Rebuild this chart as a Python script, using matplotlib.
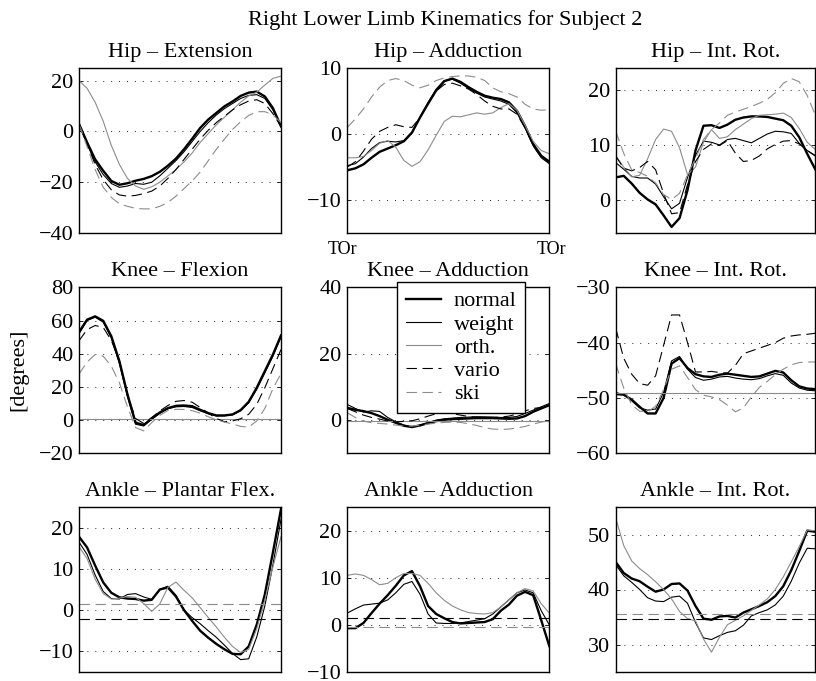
import matplotlib
matplotlib.use('Agg')
import matplotlib.pyplot as plt

plt.rcParams['font.family'] = ['Liberation Serif', 'DejaVu Serif']
plt.rcParams['font.size'] = 16
plt.rcParams['lines.scale_dashes'] = False

# gait cycle [%]
pct = list(range(0, 101, 4))

# Hip - Extension
hip_ext_normal = [3, -4.3, -11, -15.5, -19.5, -21, -20.4, -19.4, -18.7, -17.6, -15.9, -13.5, -10.7,
                  -7, -2.9, 1.4, 4.7, 7.3, 9.9, 11.8, 14, 15.3, 15.7, 13.8, 9.2, 2]
hip_ext_weight = [3, -5, -12, -17, -20.5, -22, -21.5, -20.5, -20.8, -20, -17.5, -14.5, -11.5,
                  -8, -4, 0, 3.5, 6.5, 9, 11, 13, 14.2, 14.5, 13, 8.5, 2]
hip_ext_orth = [20, 17, 11.5, 4, -5.5, -13, -18.5, -21.5, -22.8, -21.8, -20, -17.5, -15,
                -12, -8.5, -4.3, -0.8, 2.6, 5.6, 8.5, 11.5, 14, 15.5, 18.3, 20.9, 21.8]
hip_ext_vario = [3, -5, -13, -19, -23, -25, -25.5, -25.2, -24.5, -23.5, -21.5, -18.5, -15,
                 -11, -7, -3, 0.5, 3.5, 6, 8.5, 10.5, 12, 12.5, 11, 7, 2]
hip_ext_ski = [3, -6, -15, -22, -26, -28.5, -29.5, -30.3, -30.5, -30.5, -29.5, -28, -25.5,
               -22.5, -19.5, -16, -11.5, -7, -3, 0.8, 3.8, 6.3, 7.8, 7.8, 6.5, 3.5]

# Hip - Adduction
hip_add_normal = [-5.5, -5.2, -4.6, -3.6, -2.7, -2.2, -1.7, -1.1, 0.2, 2.5, 4.6, 6.6, 8,
                  8.4, 7.9, 7.1, 6.4, 5.8, 5.5, 5.3, 4.8, 3.5, 1.2, -1.5, -3.3, -4.2]
hip_add_weight = [-4.8, -4.5, -3.5, -2.2, -1.3, -1.1, -1.2, -1, 0.3, 2.6, 4.8, 6.8, 8.1,
                  8.3, 7.7, 6.9, 6.2, 5.6, 5.3, 5.0, 4.5, 3.2, 0.9, -1.8, -3.6, -4.5]
hip_add_orth = [-3.6, -3.6, -3.4, -2.5, -1.4, -1, -2, -4, -4.9, -4.2, -2.4, -0.2, 1.9,
                2.7, 2.6, 2.9, 3.2, 3, 3.2, 4, 4.6, 3.6, 1.3, -1.1, -2.5, -3]
hip_add_vario = [-5, -4.2, -2.6, -0.8, 0.4, 1.0, 1.4, 1.1, 1.0, 2.5, 4.6, 6.5, 7.5,
                 7.7, 7.3, 6.8, 6.0, 5.0, 4.2, 3.8, 3.8, 3.0, 0.9, -1.7, -3.5, -4.3]
hip_add_ski = [1, 2.3, 3.8, 5.6, 7.1, 8.1, 8.4, 8.1, 7.4, 7.0, 7.4, 8.1, 8.5,
               8.7, 8.8, 8.8, 8.6, 8.1, 7.0, 6.4, 6.1, 5.6, 4.5, 3.8, 3.6, 3.7]

# Hip - Int. Rot.
hip_rot_normal = [4.1, 4.4, 3, 1.3, 0.1, -0.8, -2.8, -4.9, -3.3, 1.8, 9, 13.5, 13.6,
                  13.1, 13.7, 14.6, 15, 15.2, 15.2, 15.1, 14.8, 14.5, 13.5, 11.4, 8.4, 5.6]
hip_rot_weight = [6.8, 5.6, 4.3, 4, 4, 2.9, 0.6, -1.6, -0.6, 4.1, 8.1, 10.7, 10.5,
                  10, 11, 11.2, 10.8, 10.4, 11.2, 12, 12.5, 12.4, 12.1, 10.3, 9, 8]
hip_rot_orth = [8, 6, 4.2, 4.5, 7.5, 11, 12.9, 12.5, 9.5, 4.6, 6, 10.5, 12.8,
                11.2, 11.5, 12.8, 13.8, 14.8, 15.4, 15.5, 15.6, 15.8, 15, 13, 10.5, 9.2]
hip_rot_vario = [8, 5.8, 5.3, 5.9, 7, 5.5, 1.2, -2.5, -2.3, 2.8, 7, 9.2, 10.2,
                 9.9, 10.8, 8.5, 7, 7.2, 8, 9.3, 10.1, 10.7, 10.8, 10.2, 9, 8.1]
hip_rot_ski = [12.5, 8.5, 5.5, 5, 4.3, 3.1, 1, 0.1, 1.2, 4.6, 7.5, 11, 12.8,
               14, 15.4, 16, 16.5, 17, 17.6, 18.3, 19.5, 21.2, 22.1, 21.5, 19, 15.5]

# Knee - Flexion
knee_flex_normal = [53, 60.5, 62.5, 59.8, 50.5, 35.5, 15.5, -1.5, -3, 1, 4.6, 7.2, 8.6,
                    8.8, 8.4, 6.2, 4.2, 2.8, 2.8, 3.4, 6, 11, 19.5, 29.5, 39.5, 51]
knee_flex_weight = [52, 60, 62, 59, 49.5, 34, 14, -2.5, -3.5, 0.5, 4, 6.8, 8,
                    8.2, 7.6, 5.6, 3.8, 2.5, 2.6, 3.2, 5.6, 10.4, 18.6, 28.5, 38.5, 50]
knee_flex_orth = 0.8
knee_flex_vario = [47.8, 54.5, 57, 55.8, 48, 35.5, 15, 1, -2, 1.5, 5.5, 8.8, 11.3,
                   11.8, 10.8, 7.6, 4.2, 1, -1, -0.5, 0.8, 3.5, 9.5, 19.5, 31, 42.5]
knee_flex_ski = [27.7, 35, 39.5, 38.5, 32.5, 22.5, 8, -4.5, -6.5, -1.5, 2.8, 5.8, 6.5,
                 6.4, 5.7, 4.2, 2, 0.2, -1.2, -2.3, -3.8, -4.2, -0.5, 7, 19, 28]

# Knee - Adduction
knee_add_normal = [3.7, 3.1, 2.7, 2.1, 1.2, 0.1, -0.8, -1.7, -2.1, -1.6, -0.9, -0.3, 0.1,
                   0.3, 0.4, 0.5, 0.6, 0.6, 0.6, 0.5, 0.4, 0.5, 1.2, 2.5, 3.5, 4.5]
knee_add_weight = [4.7, 3.5, 2.4, 2.8, 2.6, 0.8, -0.5, -1.5, -2, -1.5, -0.8, 0, 0.4,
                   0.6, 0.8, 0.9, 1, 1, 0.9, 0.8, 0.8, 1.1, 2, 3, 4, 5]
knee_add_orth = -0.3
knee_add_vario = [3.5, 2.5, 1.5, 0.8, 0.3, -0.3, -0.5, -0.4, -0.2, 0.4, 1.2, 1.9, 2.2,
                  2, 1.5, 1.1, 0.9, 0.8, 0.8, 0.9, 1.2, 1.8, 2.8, 3.5, 3.8, 3.9]
knee_add_ski = [2.2, 0.8, -0.3, -0.8, -1, -1.2, -1.5, -1.8, -1.8, -1.5, -1.2, -0.9, -0.7,
                -0.6, -0.7, -1.1, -1.6, -2.3, -2.7, -2.8, -2.7, -2.4, -1.9, -1.2, -0.6, -0.2]

# Knee - Int. Rot.
knee_rot_normal = [-49.3, -49.4, -50.3, -51.6, -52.8, -52.8, -50, -43.8, -42.8, -44.6, -45.7, -46.1, -46.2,
                   -45.8, -45.6, -45.8, -46, -46.2, -46.1, -45.6, -45.1, -45.4, -46.8, -47.9, -48.3, -48.4]
knee_rot_weight = [-49, -49.4, -50.5, -51.8, -52.2, -52, -49, -43.3, -42.5, -44.8, -46.3, -46.8, -46.6,
                   -46.2, -46.1, -46.4, -46.6, -46.7, -46.5, -46, -45.6, -45.9, -47.3, -48.2, -48.6, -48.7]
knee_rot_orth = -49.1
knee_rot_vario = [-37.4, -42.8, -45.7, -47.4, -47.7, -46, -40.5, -35, -35, -40, -45.3, -45.3, -45.2,
                  -45.4, -45.5, -44.1, -42, -41.5, -41, -40.5, -40, -39.2, -38.8, -38.6, -38.5, -38.3]
knee_rot_ski = [-43.8, -48.2, -51.2, -52.4, -52.5, -51.5, -48.5, -44.8, -44.2, -46.3, -48.5, -49.5, -49.8,
                -50.3, -51.3, -52.5, -51.8, -49.8, -48.1, -47, -45.8, -44.8, -44, -43.6, -43.5, -43.5]

# Ankle - Plantar Flex.
ank_pf_normal = [17.8, 15.2, 10.8, 6.7, 4.2, 3.1, 2.8, 2.7, 2.3, 2.5, 5, 5.5, 3.3,
                 0, -2.6, -5, -6.7, -8.2, -9.5, -10.6, -10.7, -8.8, -3.5, 3.8, 14, 24.5]
ank_pf_weight = [16.5, 13.5, 8.5, 4.5, 2.8, 2.7, 3.8, 4, 3.2, 2.6, 5, 5.8, 3.6,
                 0, -1.8, -3.3, -5, -6.6, -8.5, -10.5, -12, -11.8, -6.5, 1, 11, 22]
ank_pf_orth = [15.4, 12.5, 7.5, 4, 2.7, 2.9, 3.3, 3.1, 1.6, -0.3, 1.5, 5.5, 6.8,
               4.8, 3, 0.6, -1.8, -4.1, -6.6, -8.8, -10.3, -9.5, -4.5, 2.5, 10.5, 17.8]
ank_pf_vario = -2.2
ank_pf_ski = 1.4

# Ankle - Adduction
ank_add_normal = [-0.7, -0.7, 0.4, 2.5, 4.5, 6.3, 8.3, 10.5, 11.4, 8.2, 4, 2.3, 1.4,
                  0.6, 0.3, 0.4, 0.5, 0.6, 1.2, 3, 4.3, 6.2, 7, 6.3, 1, -4.5]
ank_add_weight = [2.5, 3.4, 4.2, 4.4, 4.6, 5.3, 6.8, 8.6, 9.2, 6.5, 2.3, 0.4, 0.3,
                  0.3, 0.4, 0.7, 1, 1.3, 2.3, 3.8, 5.3, 6.8, 7.4, 6.8, 3, 0]
ank_add_orth = [10.5, 10.8, 10.5, 9.6, 8.5, 8.8, 10, 10.9, 10.9, 10.5, 8.8, 6.8, 5.2,
                4, 3.2, 2.6, 2.4, 2.3, 2.6, 3.8, 5.3, 6.8, 7.7, 7.2, 4.5, 2.5]
ank_add_vario = 1.4
ank_add_ski = -0.35

# Ankle - Int. Rot.
ank_rot_normal = [45, 43, 42, 41.5, 40.5, 39.6, 40, 41, 41.1, 39.8, 37, 34.7, 34.5,
                  35.1, 35.2, 34.9, 35.8, 36.4, 37, 37.7, 38.8, 40.6, 43.5, 47, 50.7, 50.5]
ank_rot_weight = [44.5, 42.5, 41.3, 40, 38.5, 37.9, 37.8, 38.6, 38.8, 37.5, 34, 31.2, 30.9,
                  31.6, 32.2, 32.5, 33.5, 35.2, 35.8, 36.3, 37.2, 38.8, 41.5, 44.8, 47.5, 47.4]
ank_rot_orth = [53, 48, 45.2, 43.8, 42.7, 41.4, 40, 38.3, 36, 34.7, 34.3, 31, 28.6,
                31.3, 33.6, 34.4, 35.2, 36.2, 37.2, 38.3, 40, 42.3, 45, 47.8, 50.8, 50.7]
ank_rot_vario = 34.6
ank_rot_ski = 35.6

labels = ['normal', 'weight', 'orth.', 'vario', 'ski']
styles = [dict(color='k', lw=1.7, ls='-'),
          dict(color='k', lw=0.8, ls='-'),
          dict(color='0.55', lw=0.8, ls='-'),
          dict(color='k', lw=0.8, ls=(0, (7.5, 4))),
          dict(color='0.55', lw=0.8, ls=(0, (7.5, 4)))]

panels = [
    ('Hip \u2013 Extension', (-40, 25), [-40, -20, 0, 20],
     [hip_ext_normal, hip_ext_weight, hip_ext_orth, hip_ext_vario, hip_ext_ski]),
    ('Hip \u2013 Adduction', (-15, 10), [-10, 0, 10],
     [hip_add_normal, hip_add_weight, hip_add_orth, hip_add_vario, hip_add_ski]),
    ('Hip \u2013 Int. Rot.', (-6, 24), [0, 10, 20],
     [hip_rot_normal, hip_rot_weight, hip_rot_orth, hip_rot_vario, hip_rot_ski]),
    ('Knee \u2013 Flexion', (-20, 80), [-20, 0, 20, 40, 60, 80],
     [knee_flex_normal, knee_flex_weight, knee_flex_orth, knee_flex_vario, knee_flex_ski]),
    ('Knee \u2013 Adduction', (-10, 40), [0, 20, 40],
     [knee_add_normal, knee_add_weight, knee_add_orth, knee_add_vario, knee_add_ski]),
    ('Knee \u2013 Int. Rot.', (-60, -30), [-60, -50, -40, -30],
     [knee_rot_normal, knee_rot_weight, knee_rot_orth, knee_rot_vario, knee_rot_ski]),
    ('Ankle \u2013 Plantar Flex.', (-15, 25), [-10, 0, 10, 20],
     [ank_pf_normal, ank_pf_weight, ank_pf_orth, ank_pf_vario, ank_pf_ski]),
    ('Ankle \u2013 Adduction', (-10, 25), [-10, 0, 10, 20],
     [ank_add_normal, ank_add_weight, ank_add_orth, ank_add_vario, ank_add_ski]),
    ('Ankle \u2013 Int. Rot.', (25, 55), [30, 40, 50],
     [ank_rot_normal, ank_rot_weight, ank_rot_orth, ank_rot_vario, ank_rot_ski]),
]

W, H = 816, 681
fig = plt.figure(figsize=(W / 100, H / 100), dpi=100)

col_left = [79, 347.3, 615.7]
col_width = [202, 202, 199.5]
row_top = [68, 287.3, 507]
row_height = [165, 166, 165]

axes = []
for i, (title, ylim, yticks, series) in enumerate(panels):
    r, c = divmod(i, 3)
    ax = fig.add_axes([col_left[c] / W, 1 - (row_top[r] + row_height[r]) / H,
                       col_width[c] / W, row_height[r] / H])
    for values, lab, st in zip(series, labels, styles):
        if isinstance(values, list):
            ax.plot(pct, values, label=lab, **st)
        else:
            # constant trace
            ax.axhline(values, label=lab, **st)
    ax.set_xlim(0, 100)
    ax.set_ylim(*ylim)
    ax.set_xticks([])
    ax.set_yticks(yticks)
    ax.yaxis.grid(True, color='k', lw=0.6, ls=(0, (0.7, 5)))
    ax.tick_params(axis='y', direction='in', length=3, width=0.6, right=True, pad=4,
                   labelsize=16)
    for sp in ax.spines.values():
        sp.set_linewidth(1.0)
    ax.set_title(title, fontsize=16, pad=8)
    axes.append(ax)

# toe-off markers above the knee adduction panel
ax5 = axes[4]
ax5.text(-0.025, 1.2, 'TOr', transform=ax5.transAxes, ha='center', va='baseline', fontsize=13)
ax5.text(1.01, 1.2, 'TOr', transform=ax5.transAxes, ha='center', va='baseline', fontsize=13)

leg = ax5.legend(loc='upper left', bbox_to_anchor=(397 / W, 1 - 282 / H),
                 bbox_transform=fig.transFigure, fontsize=16, frameon=True,
                 fancybox=False, framealpha=1, edgecolor='k', borderaxespad=0,
                 handlelength=1.6, handletextpad=0.55, labelspacing=0.12, borderpad=0.4)
leg.get_frame().set_linewidth(1.0)
leg.set_zorder(10)

fig.text(445 / W, 1 - 25 / H, 'Right Lower Limb Kinematics for Subject 2',
         ha='center', va='baseline', fontsize=16)
fig.text(19 / W, 1 - 370 / H, '[degrees]', rotation=90, ha='center', va='center', fontsize=16)

fig.savefig('out.png', dpi=100)
